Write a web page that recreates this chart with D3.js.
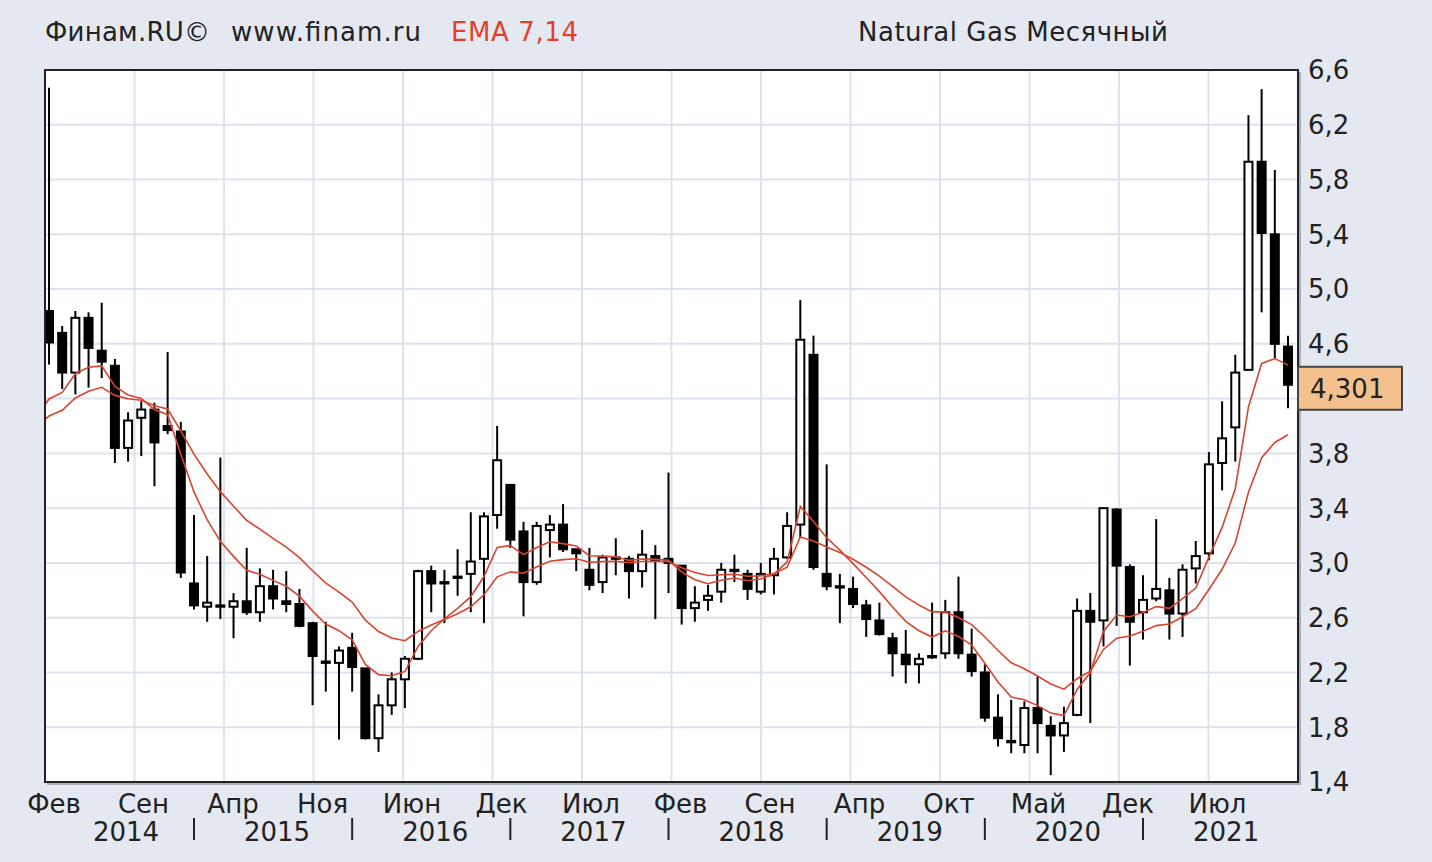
<!DOCTYPE html>
<html><head><meta charset="utf-8">
<script src="https://cdn.jsdelivr.net/npm/d3@7"></script>
<style>
body{margin:0;background:#E4E8F0;}
svg{display:block;}
text{font-family:"DejaVu Sans",sans-serif;fill:#222;}
</style>
</head><body><svg id="c" width="1432" height="862"></svg>
<script>
// ---- data (monthly candles, Feb 2014 .. Dec 2021) ----
const startMonth = "2014-02";
const open  = [4.84,4.68,4.39,4.79,4.55,4.44,3.84,4.06,4.12,4.00,3.96,2.85,2.68,2.69,2.68,2.72,2.64,2.83,2.72,2.70,
               2.56,2.28,2.27,2.38,2.23,1.72,1.96,2.15,2.30,2.94,2.86,2.89,2.92,3.03,3.35,3.57,3.23,2.86,3.24,3.28,
               3.10,2.95,2.86,3.04,3.03,2.94,3.05,3.03,2.98,2.67,2.73,2.79,2.95,2.92,2.79,2.91,3.04,3.28,4.52,2.92,
               2.83,2.81,2.69,2.58,2.45,2.33,2.26,2.31,2.34,2.64,2.33,2.20,1.87,1.70,1.67,1.94,1.81,1.74,1.89,2.65,
               2.58,3.39,2.97,2.64,2.74,2.80,2.63,2.96,3.07,3.73,3.99,4.41,5.93,5.40,4.58];
const high  = [6.47,4.73,4.84,4.83,4.90,4.49,4.10,4.18,4.17,4.54,4.03,3.35,3.05,3.77,2.78,3.11,2.96,2.95,2.94,2.81,
               2.57,2.57,2.39,2.49,2.23,2.04,2.20,2.32,2.95,2.98,2.95,3.10,3.37,3.37,4.00,3.57,3.30,3.30,3.35,3.43,
               3.10,3.11,3.06,3.18,3.05,3.24,3.13,3.66,2.98,2.83,2.84,3.00,3.06,2.95,3.00,3.11,3.37,4.92,4.66,3.72,
               2.92,2.90,2.73,2.71,2.49,2.51,2.34,2.71,2.73,2.90,2.52,2.26,2.04,2.00,1.99,2.17,1.88,1.95,2.74,2.78,
               3.40,3.40,2.99,2.91,3.32,2.89,2.99,3.16,3.81,4.18,4.52,6.27,6.46,5.87,4.66];
const low   = [4.45,4.27,4.23,4.28,4.35,3.73,3.74,3.78,3.56,3.94,2.89,2.66,2.57,2.59,2.45,2.62,2.57,2.66,2.64,2.53,
               1.96,2.06,1.71,2.06,1.71,1.62,1.89,1.94,2.29,2.64,2.56,2.76,2.64,2.56,3.25,3.11,2.61,2.84,3.04,3.08,
               2.94,2.80,2.78,2.91,2.74,2.82,2.59,2.78,2.55,2.57,2.65,2.71,2.86,2.73,2.77,2.77,3.03,3.18,2.95,2.80,
               2.56,2.67,2.46,2.47,2.17,2.12,2.12,2.30,2.30,2.30,2.17,1.84,1.66,1.61,1.61,1.61,1.45,1.62,1.88,1.83,
               2.39,2.54,2.25,2.44,2.72,2.44,2.46,2.85,3.02,3.53,3.74,4.41,4.83,4.49,4.13];
const close = [4.61,4.39,4.79,4.57,4.47,3.84,4.04,4.12,3.88,3.97,2.93,2.69,2.71,2.68,2.72,2.64,2.83,2.74,2.70,2.54,
               2.32,2.27,2.36,2.24,1.72,1.96,2.15,2.30,2.94,2.85,2.85,2.90,3.01,3.34,3.75,3.17,2.86,3.27,3.28,3.10,
               3.07,2.84,3.04,3.03,2.94,3.06,3.02,3.00,2.67,2.71,2.76,2.95,2.94,2.81,2.92,3.03,3.27,4.63,2.97,2.83,
               2.82,2.70,2.59,2.48,2.34,2.26,2.30,2.32,2.64,2.34,2.21,1.87,1.72,1.69,1.94,1.83,1.74,1.83,2.65,2.57,
               3.40,2.98,2.57,2.73,2.81,2.63,2.95,3.05,3.72,3.91,4.39,5.93,5.41,4.60,4.301];
const emaPeriods = [7, 14];
const emaSeed = [4.06, 3.99];          // EMA values of the month before the first candle
const yTicks = [1.4,1.8,2.2,2.6,3.0,3.4,3.8,4.2,4.6,5.0,5.4,5.8,6.2,6.6];
const monthTickLabels = ["Фев","Сен","Апр","Ноя","Июн","Дек","Июл","Фев","Сен","Апр","Окт","Май","Дек","Июл"];
const yearLabels = ["2014","2015","2016","2017","2018","2019","2020","2021"];
const headerLeft = ["Финам.RU©","www.finam.ru"];
const headerIndicator = "EMA 7,14";
const headerTitle = "Natural Gas Месячный";

// ---- layout ----
const L = 45, R = 1298, T = 70, B = 782;
const svg = d3.select("#c");
const n = close.length;
const x = d3.scaleLinear().domain([0, n - 1]).range([49, 1288]);
const y = d3.scaleLinear().domain([1.4, 6.6]).range([B, T]);
const fmt1 = v => d3.format(".1f")(v).replace(".", ",");
const fmt3 = v => d3.format(".3f")(v).replace(".", ",");
const lp = close[n-1];

// background
svg.append("rect").attr("width",1432).attr("height",862).attr("fill","#E4E8F0");
svg.append("rect").attr("x",L).attr("y",T).attr("width",R-L).attr("height",B-T).attr("fill","#fff");

// grid
const grid = svg.append("g").attr("stroke","#DDE3EC").attr("stroke-width",2);
grid.selectAll("line.h").data(yTicks.slice(1,-1)).join("line")
  .attr("x1",L).attr("x2",R).attr("y1",d=>y(d)).attr("y2",d=>y(d));
const vGrid = d3.range(monthTickLabels.length).map(k => L + k*(R-L)/14);
grid.selectAll("line.v").data(vGrid.slice(1)).join("line")
  .attr("x1",d=>d).attr("x2",d=>d).attr("y1",T).attr("y2",B);

// clip
svg.append("clipPath").attr("id","clip").append("rect")
  .attr("x",L).attr("y",T).attr("width",R-L).attr("height",B-T);
const plot = svg.append("g").attr("clip-path","url(#clip)");

// candles
const data = close.map((c,i)=>({i, o:open[i], h:high[i], l:low[i], c}));
const bw = 8;
const cg = plot.append("g");
cg.selectAll("line.w").data(data).join("line")
  .attr("x1",d=>x(d.i)).attr("x2",d=>x(d.i))
  .attr("y1",d=>y(d.h)).attr("y2",d=>y(d.l))
  .attr("stroke","#000").attr("stroke-width",2);
cg.selectAll("rect").data(data).join("rect")
  .attr("x",d=>x(d.i)-bw/2).attr("width",bw)
  .attr("y",d=>y(Math.max(d.o,d.c)))
  .attr("height",d=>Math.max(1, Math.abs(y(d.o)-y(d.c))))
  .attr("fill",d=>d.c>=d.o?"#fff":"#000")
  .attr("stroke","#000").attr("stroke-width",2);

// EMA lines
const emaColor = "#D9442E";
emaPeriods.forEach((p, k) => {
  const a = 2/(p+1);
  let prev = emaSeed[k];
  const pts = [{i:-1, v:prev}];
  close.forEach((c,i)=>{ prev = prev + a*(c-prev); pts.push({i, v:prev}); });
  plot.append("path").datum(pts)
    .attr("fill","none").attr("stroke",emaColor).attr("stroke-width",1.6)
    .attr("d", d3.line().x(d=>x(d.i)).y(d=>y(d.v)));
});

// frame with soft shadow
svg.append("path").attr("d",`M${R+2},${T+2}V${B+2}H${L+2}`)
  .attr("fill","none").attr("stroke","#A8AEB8").attr("stroke-width",2);
svg.append("rect").attr("x",L).attr("y",T).attr("width",R-L).attr("height",B-T)
  .attr("fill","none").attr("stroke","#222").attr("stroke-width",2);

// y axis labels (the one hidden by the last-price box is not drawn)
const boxTop = y(lp)-18, boxBot = y(lp)+25;
svg.append("g").selectAll("text")
  .data(yTicks.filter(t => y(t)+10 < boxTop || y(t)-10 > boxBot)).join("text")
  .attr("x",1308).attr("y",d=>y(d)).attr("dy","0.36em")
  .attr("font-size",26).text(fmt1);

// last price box
svg.append("rect").attr("x",R).attr("y",boxTop).attr("width",104).attr("height",boxBot-boxTop)
  .attr("fill","#F4C08E").attr("stroke","#444").attr("stroke-width",2);
svg.append("text").attr("x",1310).attr("y",(boxTop+boxBot)/2).attr("dy","0.36em")
  .attr("font-size",26).text(fmt3(lp));

// month labels
svg.append("g").selectAll("text").data(monthTickLabels).join("text")
  .attr("x",(d,k)=>vGrid[k]+9).attr("y",813).attr("text-anchor","middle")
  .attr("font-size",26).text(d=>d);

// year labels and separators
const y0 = +startMonth.slice(0,4), m0 = +startMonth.slice(5,7);
yearLabels.forEach((yr,k)=>{
  const janIdx = (+yr - y0)*12 - (m0-1);
  const cx = Math.max(x(janIdx+6)+4, L+81);
  svg.append("text").attr("x",cx).attr("y",841).attr("text-anchor","middle")
    .attr("font-size",26).text(yr);
  if (k>0) svg.append("line").attr("x1",x(janIdx)).attr("x2",x(janIdx))
    .attr("y1",818).attr("y2",840).attr("stroke","#222").attr("stroke-width",2);
});

// header
const hdr = (tx, x0, len, col) => svg.append("text").attr("x",x0).attr("y",41)
  .attr("font-size",26).attr("textLength",len).attr("lengthAdjust","spacing")
  .style("fill",col||"#222").text(tx);
hdr(headerLeft[0], 45, 165);
hdr(headerLeft[1], 231, 190);
hdr(headerIndicator, 451, 127, "#E3402C");
hdr(headerTitle, 858, 310);
</script>
</body></html>
